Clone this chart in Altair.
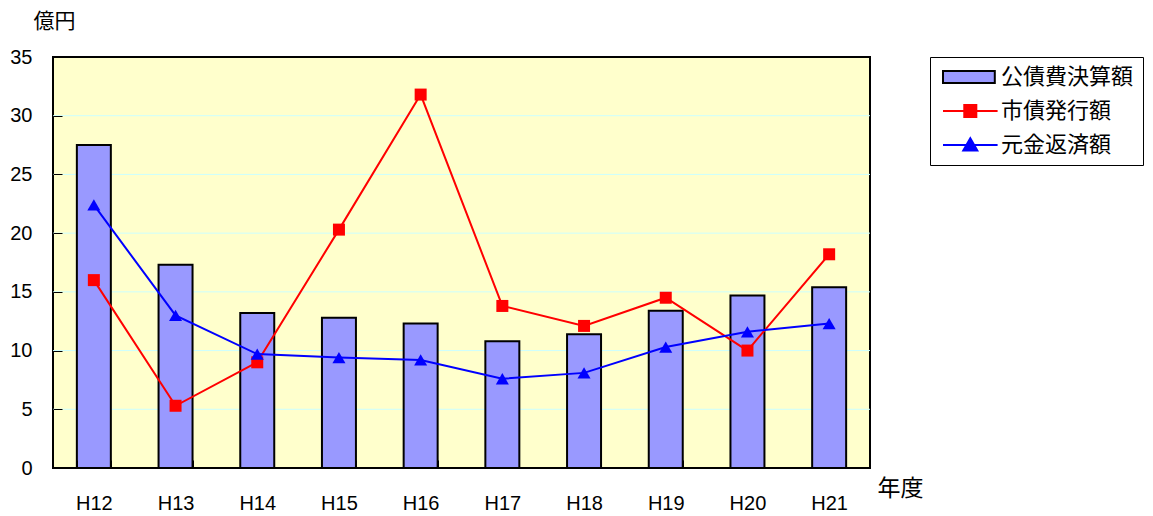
import altair as alt
import pandas as pd

years = ["H12", "H13", "H14", "H15", "H16", "H17", "H18", "H19", "H20", "H21"]
kousai = [27.5, 17.3, 13.2, 12.8, 12.3, 10.8, 11.4, 13.4, 14.7, 15.4]
shisai = [16.0, 5.3, 9.0, 20.3, 31.8, 13.8, 12.1, 14.5, 10.0, 18.2]
gankin = [22.4, 13.0, 9.7, 9.4, 9.2, 7.6, 8.1, 10.3, 11.6, 12.3]
series = ["公債費決算額", "市債発行額", "元金返済額"]
y_ticks = [0, 5, 10, 15, 20, 25, 30, 35]
grid_vals = [5, 10, 15, 20, 25, 30]

W, H = 817, 411
NUM_FONT = "Liberation Sans, Noto Sans CJK JP"
CJK_FONT = "Noto Sans CJK JP"

df = pd.DataFrame({"year": years, "kousai": kousai, "shisai": shisai, "gankin": gankin})
grid_df = pd.DataFrame({"v": grid_vals})
leg_df = pd.DataFrame({"series": series})

x_enc = alt.X(
    "year:N",
    sort=years,
    scale=alt.Scale(paddingInner=0.584, paddingOuter=0.292),
    axis=alt.Axis(
        title="年度", labelAngle=0, offset=-8, tickSize=8, tickBand="extent",
        domain=False, ticks=True, tickColor="black", tickWidth=1, labelPadding=25,
        labelFont=NUM_FONT, labelFontSize=20, labelColor="black", grid=False, zindex=1,
        titleFont=CJK_FONT, titleFontSize=23, titleFontWeight="normal",
        titleX=824, titleY=28, titleAlign="left", titleBaseline="middle", titleColor="black",
    ),
)
y_scale = alt.Scale(domain=[0, 35], nice=False, zero=True)
y_axis = alt.Axis(
    title="億円", values=y_ticks, offset=-9, tickSize=9, domain=False, ticks=True,
    tickColor="black", tickWidth=1, labelPadding=21, grid=False, zindex=1,
    labelFont=NUM_FONT, labelFontSize=20, labelColor="black",
    titleFont=CJK_FONT, titleFontSize=21, titleFontWeight="normal", titleAngle=0,
    titleX=-8, titleY=-36, titleAlign="center", titleBaseline="middle", titleColor="black",
)

grid = alt.Chart(grid_df).mark_rule(color="#CCFFFF", strokeWidth=1).encode(
    y=alt.Y("v:Q", scale=y_scale, axis=y_axis)
)

bars = alt.Chart(df).mark_bar(fill="#9999FF", stroke="black", strokeWidth=2).encode(
    x=x_enc, y=alt.Y("kousai:Q", scale=y_scale, axis=y_axis)
)

red = alt.Chart(df).mark_line(
    color="#FF0000", strokeWidth=2,
    point=alt.OverlayMarkDef(shape="square", size=144, filled=True, color="#FF0000", opacity=1),
).encode(x=alt.X("year:N", sort=years), y=alt.Y("shisai:Q", scale=y_scale))

blue = alt.Chart(df).mark_line(
    color="#0000FF", strokeWidth=2,
    point=alt.OverlayMarkDef(shape="triangle-up", size=170, filled=True, color="#0000FF", opacity=1),
).encode(x=alt.X("year:N", sort=years), y=alt.Y("gankin:Q", scale=y_scale))

paths = [
    "M-1,-0.86H6.4V0.86H-1Z",
    "M-1,0H6.8M2.04,-0.86H3.76V0.86H2.04Z",
    "M-1,0H6.8M2.9,-0.95L3.9,0.8H1.9Z",
]
leg = alt.Legend(
    title=None, orient="none", legendX=877, legendY=0, strokeColor="black",
    fillColor="white", padding=9, labelFont=CJK_FONT, labelFontSize=22,
    labelColor="black", symbolSize=196, symbolStrokeWidth=2, symbolOpacity=1,
    labelOffset=40, rowPadding=12,
)
dummy = alt.Chart(leg_df).mark_point(opacity=0, filled=True).encode(
    shape=alt.Shape("series:N", sort=series, scale=alt.Scale(domain=series, range=paths), legend=leg),
    fill=alt.Fill("series:N", sort=series, scale=alt.Scale(domain=series, range=["#9999FF", "#FF0000", "#0000FF"]), legend=leg),
    stroke=alt.Stroke("series:N", sort=series, scale=alt.Scale(domain=series, range=["black", "#FF0000", "#0000FF"]), legend=leg),
)

chart = alt.layer(grid, bars, red, blue, dummy).properties(
    width=W, height=H,
    background="white",
    view=alt.ViewBackground(fill="#FFFFCC", stroke="black", strokeWidth=2),
    autosize=alt.AutoSizeParams(type="none"),
    padding={"left": 45, "top": 49, "right": 274, "bottom": 48},
).configure_view(fill="#FFFFCC", stroke="black", strokeWidth=2)

chart.save("out.html", embed_options={"renderer": "svg", "actions": False})
